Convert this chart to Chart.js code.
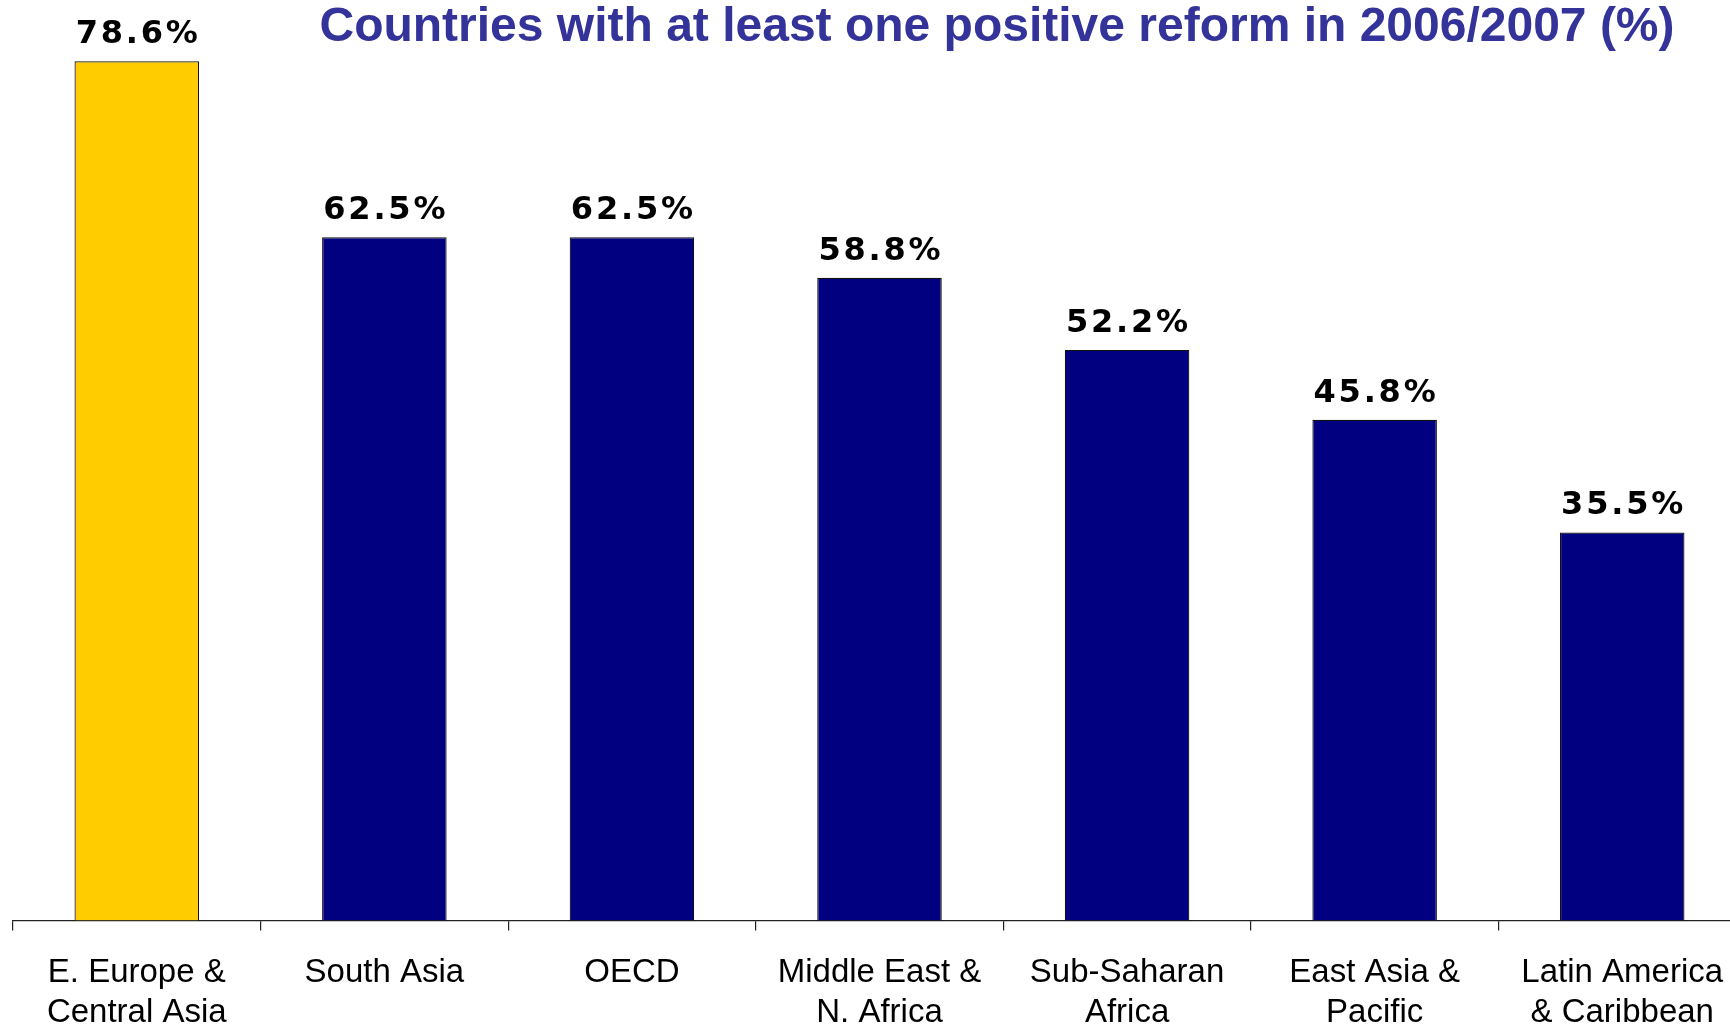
<!DOCTYPE html>
<html>
<head>
<meta charset="utf-8">
<script src="https://cdn.jsdelivr.net/npm/chart.js@4"></script>
<style>
  html, body { margin: 0; padding: 0; background: #fff; overflow: hidden; }
  #wrap { width: 1746px; height: 1062px; }
</style>
</head>
<body>
<div id="wrap"><canvas id="chart"></canvas></div>
<script>
// ==========================
//  DATOS
// ==========================
const regions = [
  ["E. Europe &", "Central Asia"],
  "South Asia",
  "OECD",
  ["Middle East &", "N. Africa"],
  ["Sub-Saharan", "Africa"],
  ["East Asia &", "Pacific"],
  ["Latin America", "& Caribbean"]
];
const reformShare = [78.6, 62.5, 62.5, 58.8, 52.2, 45.8, 35.5];
const barColors = ["#FFCC00", "#000080", "#000080", "#000080", "#000080", "#000080", "#000080"];
const chartTitle = "Countries with at least one positive reform in 2006/2007 (%)";

// ==========================
//  ETIQUETAS Y TITULO
// ==========================
const valueLabels = {
  id: "valueLabels",
  afterDatasetsDraw(chart) {
    const ctx = chart.ctx;
    const meta = chart.getDatasetMeta(0);
    ctx.save();
    ctx.font = "bold 32px 'DejaVu Sans'";
    ctx.letterSpacing = "2.8px";
    ctx.fillStyle = "#000";
    ctx.textAlign = "center";
    ctx.textBaseline = "alphabetic";
    meta.data.forEach((bar, i) => {
      ctx.fillText(reformShare[i].toFixed(1) + "%", bar.x + 1.4, bar.y - 18);
    });
    ctx.restore();
  }
};

const titlePlugin = {
  id: "titlePlugin",
  afterDraw(chart) {
    const ctx = chart.ctx;
    ctx.save();
    ctx.font = "bold 48px 'Liberation Sans', Arial";
    ctx.fillStyle = "#333399";
    ctx.textAlign = "center";
    ctx.textBaseline = "alphabetic";
    ctx.fillText(chartTitle, 997, 41);
    ctx.restore();
  }
};

// ==========================
//  GRAFICO
// ==========================
new Chart(document.getElementById("chart"), {
  type: "bar",
  data: {
    labels: regions,
    datasets: [{
      data: reformShare,
      backgroundColor: barColors,
      borderColor: "#111",
      borderWidth: 1.2,
      barPercentage: 0.503,
      categoryPercentage: 1
    }]
  },
  options: {
    responsive: true,
    maintainAspectRatio: false,
    animation: false,
    layout: { padding: { top: 46, left: 13, right: 0, bottom: 7 } },
    plugins: {
      legend: { display: false },
      tooltip: { enabled: false },
      title: { display: false }
    },
    scales: {
      y: { display: false, min: 0, max: 80 },
      x: {
        offset: true,
        border: { display: true, color: "#222", width: 1.2 },
        grid: {
          offset: true,
          drawOnChartArea: false,
          drawTicks: true,
          tickLength: 10,
          color: "#222",
          lineWidth: 1.2
        },
        ticks: {
          color: "#000",
          padding: 22,
          maxRotation: 0,
          autoSkip: false,
          font: { family: "'Liberation Sans', Arial", size: 33, lineHeight: 1.22 }
        }
      }
    }
  },
  plugins: [valueLabels, titlePlugin]
});
</script>
</body>
</html>
